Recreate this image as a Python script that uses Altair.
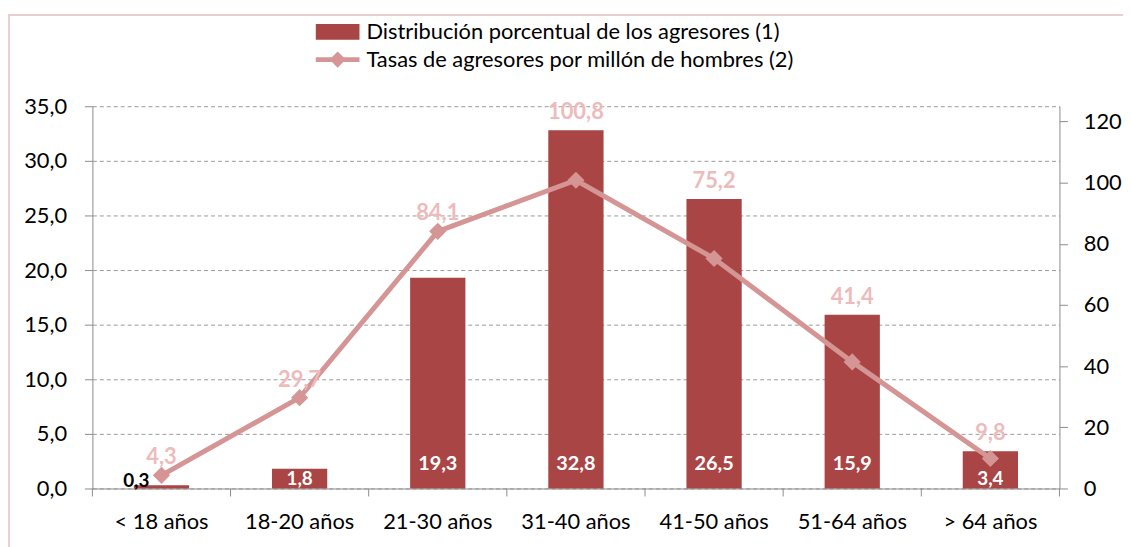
import altair as alt
import pandas as pd

categorias = ["< 18 años", "18-20 años", "21-30 años", "31-40 años",
              "41-50 años", "51-64 años", "> 64 años"]
distribucion = [0.3, 1.8, 19.3, 32.8, 26.5, 15.9, 3.4]
tasas = [4.3, 29.7, 84.1, 100.8, 75.2, 41.4, 9.8]
serie1 = "Distribución porcentual de los agresores (1)"
serie2 = "Tasas de agresores por millón de hombres (2)"
ticks_izq = [0, 5, 10, 15, 20, 25, 30, 35]
ticks_der = [0, 20, 40, 60, 80, 100, 120]

df = pd.DataFrame({"cat": categorias, "pct": distribucion, "rate": tasas,
                   "s1": serie1, "s2": serie2})

FONT = "Lato"
BAR = "#A94544"
LINE = "#D59595"
LLAB = "#EDBBBB"
GRAY = "#8C8C8C"

LEFT_MAX = 35
RIGHT_MAX = 125
WIDTH = 974
HEIGHT = 385
P_INNER = 0.6
P_OUTER = 0.3
STEP = WIDTH / (len(categorias) - P_INNER + 2 * P_OUTER)
GAP = STEP * P_OUTER  # distance from band edge to the category boundary

xscale = alt.Scale(domain=categorias, paddingInner=P_INNER, paddingOuter=P_OUTER)
yl = alt.Scale(domain=[0, LEFT_MAX], nice=False, zero=True)
yr = alt.Scale(domain=[0, RIGHT_MAX], nice=False, zero=True)


def xenc(bp=None, axis=None):
    kw = dict(sort=categorias, scale=xscale, title=None)
    if bp is not None:
        kw["bandPosition"] = bp
    if axis is not None:
        kw["axis"] = axis
    return alt.X("cat:N", **kw)


x_axis = alt.Axis(labelAngle=0, ticks=True, tickOpacity=0, labelFont=FONT,
                  labelFontSize=22, labelColor="#000000", tickSize=8,
                  domainColor=GRAY, labelPadding=15, grid=False)

base = alt.Chart(df)

bars = base.mark_bar(color=BAR).encode(
    x=xenc(axis=x_axis),
    y=alt.Y("pct:Q", scale=yl, title=None,
            axis=alt.Axis(values=ticks_izq, orient="left",
                          labelExpr="replace(format(datum.value, '.1f'), '.', ',')",
                          labelFont=FONT, labelFontSize=22, labelColor="#000000",
                          tickSize=8, tickColor=GRAY, domainColor=GRAY,
                          labelPadding=18, grid=True, gridColor="#9A9A9A",
                          gridDash=[4, 3], gridWidth=1)),
    color=alt.Color("s1:N", scale=alt.Scale(domain=[serie1], range=[BAR]),
                    legend=alt.Legend(orient="none", legendX=225, legendY=-97,
                                      title=None, padding=0,
                                      symbolType="M-1,-0.36L1,-0.36L1,0.36L-1,0.36Z",
                                      symbolSize=1936, symbolStrokeWidth=0,
                                      labelFont=FONT, labelFontSize=22,
                                      labelColor="#000000", labelOffset=7,
                                      labelLimit=600)),
)

lab_fmt = "replace(format(datum.pct, '.1f'), '.', ',')"

bt_big = base.transform_filter("datum.pct >= 5").transform_calculate(
    lab=lab_fmt, zero="0").mark_text(
    color="white", font=FONT, fontSize=20, fontWeight="bold", dy=-25,
    baseline="middle").encode(
    x=xenc(), y=alt.Y("zero:Q", scale=yl, title=None), text="lab:N")

bt_small = base.transform_filter("datum.pct >= 1 && datum.pct < 5").transform_calculate(
    lab=lab_fmt, zero="0").mark_text(
    color="white", font=FONT, fontSize=19, fontWeight="bold", dy=-10,
    baseline="middle").encode(
    x=xenc(), y=alt.Y("zero:Q", scale=yl, title=None), text="lab:N")

bt_tiny = base.transform_filter("datum.pct < 1").transform_calculate(
    lab=lab_fmt, zero="0").mark_text(
    color="black", font=FONT, fontSize=19, fontWeight="bold", dy=-8, dx=-1,
    align="right", baseline="middle").encode(
    x=xenc(bp=0.3), y=alt.Y("zero:Q", scale=yl, title=None), text="lab:N")

# category separator ticks under the x axis (at the band boundaries)
sep = base.mark_rule(color=GRAY, strokeWidth=1, xOffset=-GAP).encode(
    x=xenc(bp=0), y=alt.value(HEIGHT), y2=alt.value(HEIGHT + 8))
sep_end = base.transform_filter(f"datum.cat == '{categorias[-1]}'").mark_rule(
    color=GRAY, strokeWidth=1, xOffset=GAP).encode(
    x=xenc(bp=1), y=alt.value(HEIGHT), y2=alt.value(HEIGHT + 8))

left = alt.layer(bars, bt_big, bt_small, bt_tiny, sep, sep_end)

line = base.mark_line(color=LINE, strokeWidth=5).encode(
    x=xenc(bp=0.5),
    y=alt.Y("rate:Q", scale=yr, title=None,
            axis=alt.Axis(values=ticks_der, orient="right", labelFont=FONT,
                          labelFontSize=22, labelColor="#000000", tickSize=8,
                          tickColor=GRAY, domainColor=GRAY, labelPadding=16,
                          grid=False)),
)

points = base.mark_point(shape="diamond", filled=True, size=300, opacity=1).encode(
    x=xenc(bp=0.5),
    y=alt.Y("rate:Q", scale=yr, title=None),
    color=alt.Color("s2:N", scale=alt.Scale(domain=[serie2], range=[LINE]),
                    legend=alt.Legend(orient="none", legendX=225, legendY=-69,
                                      title=None, padding=0,
                                      symbolType="M-1,-0.11L1,-0.11L1,0.11L-1,0.11Z M-0.37,0L0,-0.37L0.37,0L0,0.37Z",
                                      symbolSize=1936, symbolStrokeWidth=0,
                                      labelFont=FONT, labelFontSize=22,
                                      labelColor="#000000", labelOffset=7,
                                      labelLimit=600)),
)

right = alt.layer(line, points)

ltext = base.transform_calculate(
    lab="replace(format(datum.rate, '.1f'), '.', ',')",
    ly=f"max(datum.pct, datum.rate * {LEFT_MAX} / {RIGHT_MAX})").mark_text(
    color=LLAB, font=FONT, fontSize=22, fontWeight="bold", dy=-18,
    baseline="middle").encode(
    x=xenc(bp=0.5),
    y=alt.Y("ly:Q", scale=yl, axis=None), text="lab:N")

border_top = alt.Chart(df).mark_rule(color="#EBCFCF", strokeWidth=1.5).encode(
    x=alt.value(-85), x2=alt.value(1100), y=alt.value(-92))
border_left = alt.Chart(df).mark_rule(color="#EBCFCF", strokeWidth=1.5).encode(
    x=alt.value(-84), y=alt.value(-92), y2=alt.value(460))

chart = alt.layer(left, right, ltext, border_top, border_left).resolve_scale(
    y="independent", color="independent").resolve_legend(
    color="independent").properties(
    width=WIDTH, height=HEIGHT, background="white",
    padding={"left": 85, "top": 97, "right": 64, "bottom": 57},
    autosize=alt.AutoSizeParams(type="none"),
).configure_view(stroke=None)

chart.save("out.html", embed_options={"renderer": "svg", "actions": False})
